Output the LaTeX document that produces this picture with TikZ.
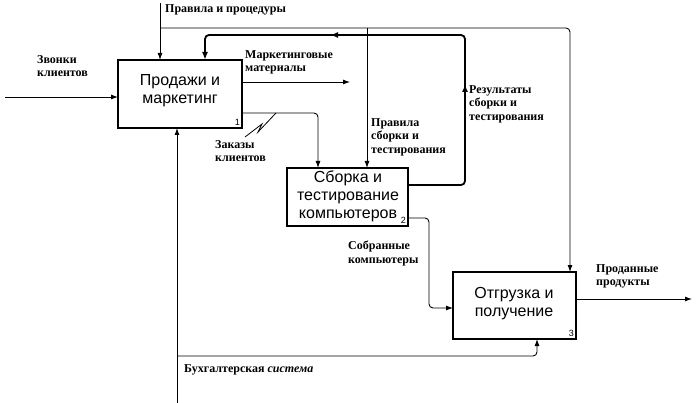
\documentclass[tikz,border=0pt]{standalone}
\usepackage{fontspec}
\setmainfont{Liberation Serif}
\newfontfamily\boxfont{Liberation Sans}
\usetikzlibrary{arrows.meta}
\begin{document}
\begin{tikzpicture}[x=1pt,y=-1pt,
  bx/.style={font=\boxfont\fontsize{16}{18}\selectfont,align=center},
  lbl/.style={font=\bfseries\fontsize{12}{13.5}\selectfont,align=left,inner sep=1pt},
  num/.style={font=\boxfont\fontsize{9}{10}\selectfont,inner sep=1pt},
  arr/.style={line width=0.9pt,-{Latex[length=7pt,width=5pt]},rounded corners=4pt},
  thick arr/.style={line width=1.8pt,-{Latex[length=8pt,width=6pt]},rounded corners=4pt}]
\fill[white] (0,0) rectangle (700,403);
\useasboundingbox (0,0) rectangle (700,403);
% boxes
\draw[line width=1.6pt] (118,60) rectangle (242,128);
\node[bx] (b1) at (180,91) {Продажи и\\маркетинг};
\node[num,anchor=south east] at (241,127) {1};
\draw[line width=1.6pt] (287,168) rectangle (408,226);
\node[bx] (b2) at (348,196) {Сборка и\\тестирование\\компьютеров};
\node[num,anchor=south east] at (407,225) {2};
\draw[line width=1.6pt] (453,272) rectangle (576,339);
\node[bx] (b3) at (514,304) {Отгрузка и\\получение};
\node[num,anchor=south east] at (575,338) {3};
\coordinate (b1t1) at (160,60); \coordinate (b1t2) at (205,60);
\coordinate (b1b) at (177,128); \coordinate (b1l) at (118,97);
\coordinate (b2t1) at (318,168); \coordinate (b2t2) at (367,168);
\coordinate (b3t) at (570,272); \coordinate (b3l) at (453,308); \coordinate (b3b) at (537,339);
\coordinate (in1) at (5,97); \coordinate (ctl) at (160,3); \coordinate (mech) at (177,403);
\coordinate (mk) at (350,82); \coordinate (out3) at (692,299);
% arrows
\draw[arr] (in1) -- (b1l);
\draw[arr] (ctl) -- (b1t1);
\draw[arr] (160,28) -- (570,28) -- (b3t);
\draw[arr] (367,28) -- (b2t2);
\draw[arr] (242,82) -- (mk);
\draw[arr] (242,113) -- (318,113) -- (b2t1);
\draw[thick arr] (408,185) -- (465,185) -- (465,84);
\draw[thick arr] (465,90) -- (465,35) -- (330,35);
\draw[thick arr] (340,35) -- (205,35) -- (b1t2);
\draw[arr] (408,218) -- (429,218) -- (429,308) -- (b3l);
\draw[arr] (576,299) -- (out3);
\draw[arr] (mech) -- (b1b);
\draw[arr] (177,356) -- (537,356) -- (b3b);
\draw[line width=0.8pt] (245,137) -- (262,124) -- (258,132) -- (276,113);
% labels
\node[lbl,anchor=north west] (l1) at (36,54) {Звонки\\клиентов};
\node[lbl,anchor=north west] (l2) at (164,3) {Правила и процедуры};
\node[lbl,anchor=north west] (l3) at (244,49) {Маркетинговые\\материалы};
\node[lbl,anchor=north west] (l4) at (214,139) {Заказы\\клиентов};
\node[lbl,anchor=north west] (l5) at (370,117) {Правила\\сборки и\\тестирования};
\node[lbl,anchor=north west] (l6) at (468,84) {Результаты\\сборки и\\тестирования};
\node[lbl,anchor=north west] (l7) at (347,240) {Собранные\\компьютеры};
\node[lbl,anchor=north west] (l8) at (595,263) {Проданные\\продукты};
\node[lbl,anchor=north west] (l9) at (183,363) {Бухгалтерская \textit{система}};
\end{tikzpicture}
\end{document}
